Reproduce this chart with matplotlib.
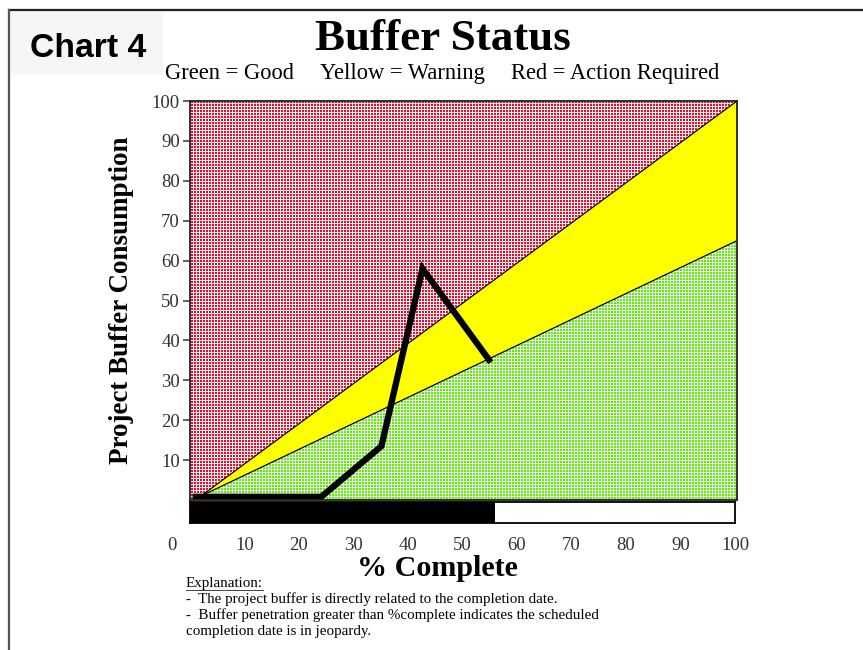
import matplotlib
matplotlib.use("Agg")
import matplotlib.pyplot as plt
from matplotlib.patches import Rectangle
from matplotlib.lines import Line2D
from matplotlib.transforms import ScaledTranslation

# ---------------- data ----------------
pct_complete = [0.5, 24, 35, 42.5, 55]          # % complete (x)
buffer_consumed = [0.8, 0.8, 13.5, 58, 34.5]    # % buffer consumed (y)
zone_x = [2, 100]
red_yellow_boundary = [1, 100]
yellow_green_boundary = [1, 65]
project_complete = 56
y_ticks = [10, 20, 30, 40, 50, 60, 70, 80, 90, 100]
x_ticks = [0, 10, 20, 30, 40, 50, 60, 70, 80, 90, 100]
bar_marks = [10, 20, 30, 40, 50, 60, 70, 80, 90]

title = "Buffer Status"
legend_parts = ["Green = Good", "Yellow = Warning", "Red = Action Required"]
explanation = [
    "-  The project buffer is directly related to the completion date.",
    "-  Buffer penetration greater than %complete indicates the scheduled",
    "completion date is in jeopardy.",
]

# ---------------- style ----------------
W, H, DPI = 863, 650, 108
plt.rcParams["hatch.linewidth"] = 0.667
plt.rcParams["hatch.color"] = "#eeeeee"
SERIF = "Liberation Serif"
SANS = "Liberation Sans"
RED = "#E60E2C"
GREEN = "#5CF000"
YELLOW = "#FFFF00"
HATCH = "++++++"

fig = plt.figure(figsize=(W / DPI, H / DPI), dpi=DPI)

def fx(px):
    return px / W

def fy(py):
    return 1 - py / H

# border lines of the page
fig.add_artist(Line2D([fx(9), 1], [fy(10), fy(10)], color="#222222", lw=1.5))
fig.add_artist(Line2D([fx(9), fx(9)], [0, fy(10)], color="#555555", lw=1.5))

# "Chart 4" box
fig.add_artist(Rectangle((fx(11), fy(75)), fx(152), 63 / H, transform=fig.transFigure,
                         facecolor="#f6f6f6", edgecolor="none", zorder=0))
fig.text(fx(30), fy(57), "Chart 4", fontfamily=SANS, fontweight="bold", fontsize=22.5,
         ha="left", va="baseline")

# titles
fig.text(fx(443), fy(50), title, fontfamily=SERIF, fontweight="bold", fontsize=30,
         ha="center", va="baseline")
for xpos, part in zip([165, 320, 511], legend_parts):
    fig.text(fx(xpos), fy(79), part, fontfamily=SERIF, fontsize=15, ha="left", va="baseline")

# ---------------- main axes ----------------
ax = fig.add_axes([fx(190), fy(500), fx(547), 399 / H])
ax.set_xlim(0, 100)
ax.set_ylim(0, 100)

ax.fill_between([0, 100], [0, 0], [100, 100], facecolor=RED, edgecolor="#eeeeee",
                linewidth=0, hatch=HATCH, zorder=1)
ax.fill_between(zone_x, yellow_green_boundary, red_yellow_boundary, facecolor=YELLOW,
                edgecolor="none", linewidth=0, zorder=2)
ax.fill_between(zone_x, [0, 0], yellow_green_boundary, facecolor=GREEN, edgecolor="#eeeeee",
                linewidth=0, hatch=HATCH, zorder=2)
ax.plot(zone_x, red_yellow_boundary, color="black", lw=0.8, zorder=3)
ax.plot(zone_x, yellow_green_boundary, color="black", lw=0.8, zorder=3)
ax.plot(pct_complete, buffer_consumed, color="black", lw=4.2, zorder=4,
        solid_joinstyle="miter", solid_capstyle="butt")

ax.set_xticks([])
ax.set_yticks(y_ticks)
ax.set_yticklabels([str(v) for v in y_ticks], fontfamily=SERIF, fontsize=12.5, color="#333333")
ax.tick_params(axis="y", direction="out", length=4.7, width=1, pad=2, color="#333333")
for s in ax.spines.values():
    s.set_linewidth(1.2)
    s.set_color("#222222")
    s.set_zorder(5)
ax.set_ylabel("Project Buffer Consumption", fontfamily=SERIF, fontweight="bold",
              fontsize=18, labelpad=12)

# ---------------- progress bar axes ----------------
bx = fig.add_axes([fx(190), fy(523), fx(545), 21 / H])
bx.set_xlim(0, 100)
bx.set_ylim(0, 1)
bx.barh([0.5], [project_complete], height=1.0, left=0, color="black", edgecolor="none")
bx.set_yticks([])
bx.set_xticks(x_ticks)
bx.set_xticklabels([str(v) for v in x_ticks], fontfamily=SERIF, fontsize=12.5, color="#333333")
bx.tick_params(axis="x", which="major", bottom=False, top=False, length=0, pad=9)
bx.set_xticks(bar_marks, minor=True)
bx.tick_params(axis="x", which="minor", top=True, bottom=False, direction="in",
               length=4, width=1, color="black")
for s in bx.spines.values():
    s.set_linewidth(1.2)
    s.set_color("black")

# the "0" label sits a little left of its position in the original
lbl0 = bx.get_xticklabels()[0]
lbl0.set_transform(lbl0.get_transform() + ScaledTranslation(-18 / DPI, 0, fig.dpi_scale_trans))

fig.text(fx(437), fy(576), "% Complete", fontfamily=SERIF, fontweight="bold", fontsize=20,
         ha="center", va="baseline")

# ---------------- explanation ----------------
t = fig.text(fx(186), fy(587), "Explanation:", fontfamily=SERIF, fontsize=10,
             ha="left", va="baseline")
for i, line in enumerate(explanation):
    fig.text(fx(186), fy(603 + 16 * i), line, fontfamily=SERIF, fontsize=10,
             ha="left", va="baseline")

fig.canvas.draw()
bb = t.get_window_extent()
fig.add_artist(Line2D([bb.x0 / W, bb.x1 / W], [fy(589.5), fy(589.5)],
                      color="#333333", lw=0.6))

fig.savefig("out.png", dpi=DPI)
